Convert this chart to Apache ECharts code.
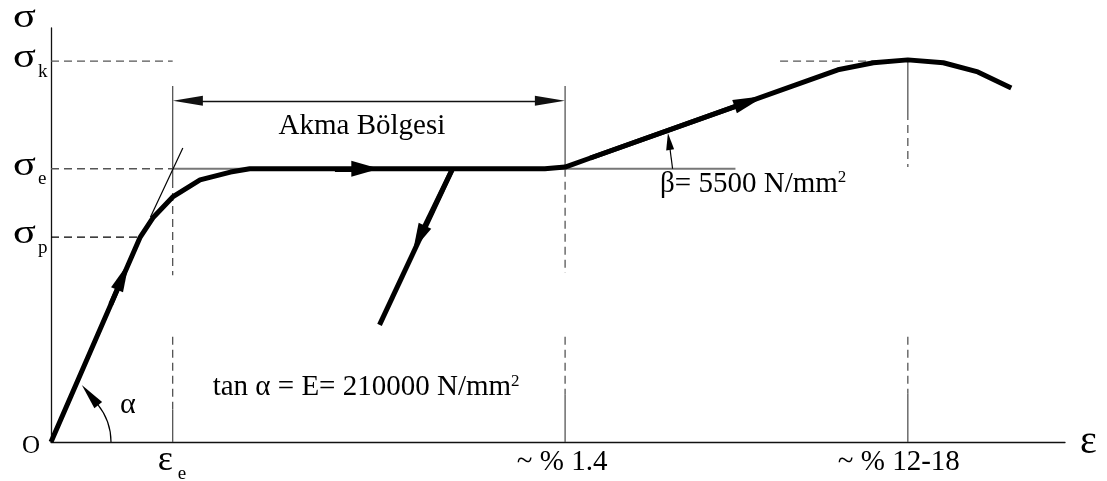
<!DOCTYPE html>
<html>
<head>
<meta charset="utf-8">
<script src="https://cdn.jsdelivr.net/npm/echarts@6/dist/echarts.min.js"></script>
<style>
html,body{margin:0;padding:0;background:#fff;}
#main{width:1107px;height:481px;}
</style>
</head>
<body>
<div id="main"></div>
<script>
// gerilme - şekil değiştirme diyagramı (şematik, birimler göreli 0-100)
var strain = [0, 8.8, 10.1, 12.0, 14.7, 17.7, 19.6, 48.7, 50.7, 53.2, 77.6, 81.1, 84.5, 88.0, 91.4, 94.7];
var stress = [0, 49.5, 54.3, 59.2, 63.3, 65.2, 66.0, 66.0, 66.4, 68.6, 89.9, 91.6, 92.3, 91.6, 89.4, 85.5];

// boşaltma kolu
var unloadStrain = [39.6, 32.4];
var unloadStress = [66.0, 28.3];

// elastik kısmın teğeti
var tangentStrain = [9.8, 13.0];
var tangentStress = [54.3, 71.0];

// eksen işaretleri
var epsTicks = [12.0, 50.7, 84.5];
var epsLabels = ['ε', '~ % 1.4', '~ % 12-18'];
var sigTicks = [49.5, 66.0, 92.0];
var sigSubs = ['p', 'e', 'k'];

// düşey kılavuz çizgileri (gerilme değerleri: üst, düz bitiş, kesikli bitiş, alt kesikli başlangıç, alt düz başlangıç)
var guideTop = [86.0, 86.0, 92.3];
var guideSolidEnd = [63.3, 66.0, 79.7];
var guideDashEnd = [40.3, 40.8, 66.4];
var guideDash2Start = [25.4, 25.4, 25.4];
var guideSolid2Start = [7.7, 11.4, 11.8];

var dimStress = 82.4;        // Akma Bölgesi ok çizgisi
var sigEGuideEnd = 67.5;     // σe yatay çizgi sonu
var sigKDashStart = 71.9;    // σk sağ kesikli çizgi başı

// oklar: [başlangıç, ok ucu merkezi]
var curveArrows = [
    [[5.9, 33.3], [7.1, 40.1]],
    [[28.0, 66.0], [31.0, 66.0]],
    [[39.6, 66.0], [36.3, 49.3]],
    [[53.2, 68.6], [68.9, 82.3]]
];
var alphaArrow = [[4.6, 9.1], [3.85, 11.35]];
var betaArrow = [[61.3, 66.0], [60.95, 72.6]];
var dimArrow = [[13.5, 82.4], [49.2, 82.4]];

var FONT = '"Liberation Serif", "Times New Roman", serif';

var dom = document.getElementById('main');
var myChart = echarts.init(dom);

function zip(xs, ys) {
    return xs.map(function (x, i) { return [x, ys[i]]; });
}

function seg(xs, ys, color, width, type) {
    return {
        type: 'line',
        data: zip(xs, ys),
        symbol: 'none',
        silent: true,
        animation: false,
        lineStyle: { color: color, width: width, type: type },
        z: 2
    };
}

function arrow(pair, size, lw, color, both) {
    return {
        type: 'line',
        data: [],
        silent: true,
        animation: false,
        z: 5,
        markLine: {
            silent: true,
            animation: false,
            symbol: both ? ['triangle', 'triangle'] : ['none', 'triangle'],
            symbolSize: size,
            label: { show: false },
            emphasis: { disabled: true },
            lineStyle: { color: color, width: lw, type: 'solid' },
            data: [[{ coord: pair[0] }, { coord: pair[1] }]]
        }
    };
}

var GUIDE = '#555';
var DASH = [8, 5];
var series = [];

// düşey kılavuzlar
epsTicks.forEach(function (e, i) {
    series.push(seg([e, e], [guideTop[i], guideSolidEnd[i]], GUIDE, 1.3, 'solid'));
    series.push(seg([e, e], [guideSolidEnd[i], guideDashEnd[i]], GUIDE, 1.3, DASH));
    series.push(seg([e, e], [guideDash2Start[i], guideSolid2Start[i]], GUIDE, 1.3, DASH));
    series.push(seg([e, e], [guideSolid2Start[i], 0], GUIDE, 1.3, 'solid'));
});

// yatay kılavuzlar
series.push(seg([0, strain[1]], [sigTicks[0], sigTicks[0]], '#000', 1.2, DASH));
series.push(seg([0, epsTicks[0]], [sigTicks[1], sigTicks[1]], GUIDE, 1.3, DASH));
series.push(seg([epsTicks[0], sigEGuideEnd], [sigTicks[1], sigTicks[1]], '#777', 2, 'solid'));
series.push(seg([0, epsTicks[0]], [sigTicks[2], sigTicks[2]], GUIDE, 1.3, DASH));
series.push(seg([sigKDashStart, epsTicks[2]], [sigTicks[2], sigTicks[2]], GUIDE, 1.3, DASH));

// teğet
series.push(seg(tangentStrain, tangentStress, '#000', 1.2, 'solid'));

// ana eğri ve boşaltma
series.push({
    type: 'line',
    name: 'σ-ε',
    data: zip(strain, stress),
    symbol: 'none',
    silent: true,
    animation: false,
    z: 4,
    lineStyle: { color: '#000', width: 5, join: 'round' }
});
series.push({
    type: 'line',
    data: zip(unloadStrain, unloadStress),
    symbol: 'none',
    silent: true,
    animation: false,
    z: 4,
    lineStyle: { color: '#000', width: 5 }
});

// oklar
var curveArrowSize = [[13, 30], [16, 28], [14, 27], [14, 32]];
curveArrows.forEach(function (a, i) {
    series.push(arrow(a, curveArrowSize[i], 5, '#000'));
});
series.push(arrow(alphaArrow, [10, 26], 1.2, '#000'));
series.push(arrow(betaArrow, [8, 17], 1.2, '#000'));
series.push(arrow(dimArrow, [10, 30], 1.3, '#111', true));

myChart.setOption({
    backgroundColor: '#fff',
    animation: false,
    grid: { left: 51, right: 42, top: 28, bottom: 39 },
    xAxis: {
        type: 'value', min: 0, max: 100,
        axisLine: { show: true, onZero: false, lineStyle: { color: '#111', width: 1.3 } },
        axisTick: { show: false },
        axisLabel: { show: false },
        splitLine: { show: false }
    },
    yAxis: {
        type: 'value', min: 0, max: 100,
        axisLine: { show: true, onZero: false, lineStyle: { color: '#111', width: 1.3 } },
        axisTick: { show: false },
        axisLabel: { show: false },
        splitLine: { show: false }
    },
    series: series
});

// yazılar
function p(x, y) {
    return myChart.convertToPixel({ gridIndex: 0 }, [x, y]);
}
function txt(x, baseline, text, size, align, sx) {
    return {
        type: 'text',
        x: x,
        y: baseline - 0.34 * size,
        scaleX: sx || 1,
        silent: true,
        z: 10,
        style: {
            text: text,
            font: size + 'px ' + FONT,
            fill: '#000',
            align: align || 'left',
            verticalAlign: 'middle'
        }
    };
}
var measureCtx = document.createElement('canvas').getContext('2d');
function textWidth(text, size) {
    measureCtx.font = size + 'px ' + FONT;
    return measureCtx.measureText(text).width;
}

var O = p(0, 0);
var yTop = p(0, 100);
var xEnd = p(100, 0);
var g = [];

g.push(txt(yTop[0] - 38, yTop[1] + 2, 'σ', 34, 'left', 1.25));
sigTicks.forEach(function (s, i) {
    var pt = p(0, s);
    g.push(txt(pt[0] - 38, pt[1] + 9, 'σ', 34, 'left', 1.25));
    g.push(txt(pt[0] - 13, pt[1] + 17, sigSubs[i], 19));
});

var e0 = p(epsTicks[0], 0);
g.push(txt(e0[0] - 15, e0[1] + 31, epsLabels[0], 36));
g.push(txt(e0[0] + 5, e0[1] + 38, 'e', 19));
var e1 = p(epsTicks[1], 0);
g.push(txt(e1[0] - 3, e1[1] + 30, epsLabels[1], 29, 'center'));
var e2 = p(epsTicks[2], 0);
g.push(txt(e2[0] - 9, e2[1] + 30, epsLabels[2], 29, 'center'));

g.push(txt(xEnd[0] + 15, xEnd[1] + 14, 'ε', 40));
g.push(txt(O[0] - 29, O[1] + 13, 'O', 25));
g.push(txt(O[0] + 69, O[1] - 27, 'α', 30));

var dm = p((epsTicks[0] + epsTicks[1]) / 2, dimStress);
g.push(txt(dm[0] - 7, dm[1] + 35, 'Akma Bölgesi', 29, 'center'));

var tanStr = 'tan α = E= 210000 N/mm';
var tx = e0[0] + 40, tb = e0[1] - 45;
g.push(txt(tx, tb, tanStr, 29));
g.push(txt(tx + textWidth(tanStr, 29), tb - 10, '2', 17));

var bAnchor = p(epsTicks[1], sigTicks[1]);
var betaStr = 'β= 5500 N/mm';
var bx = bAnchor[0] + 95, bb = bAnchor[1] + 25;
g.push(txt(bx, bb, betaStr, 29));
g.push(txt(bx + textWidth(betaStr, 29), bb - 10, '2', 17));

g.push({
    type: 'arc',
    silent: true,
    z: 6,
    shape: { cx: O[0], cy: O[1], r: 60, startAngle: -0.68, endAngle: 0, clockwise: true },
    style: { stroke: '#000', lineWidth: 1.2, fill: null }
});

myChart.setOption({ graphic: g });

window.addEventListener('resize', function () {
    myChart.resize();
});
</script>
</body>
</html>
